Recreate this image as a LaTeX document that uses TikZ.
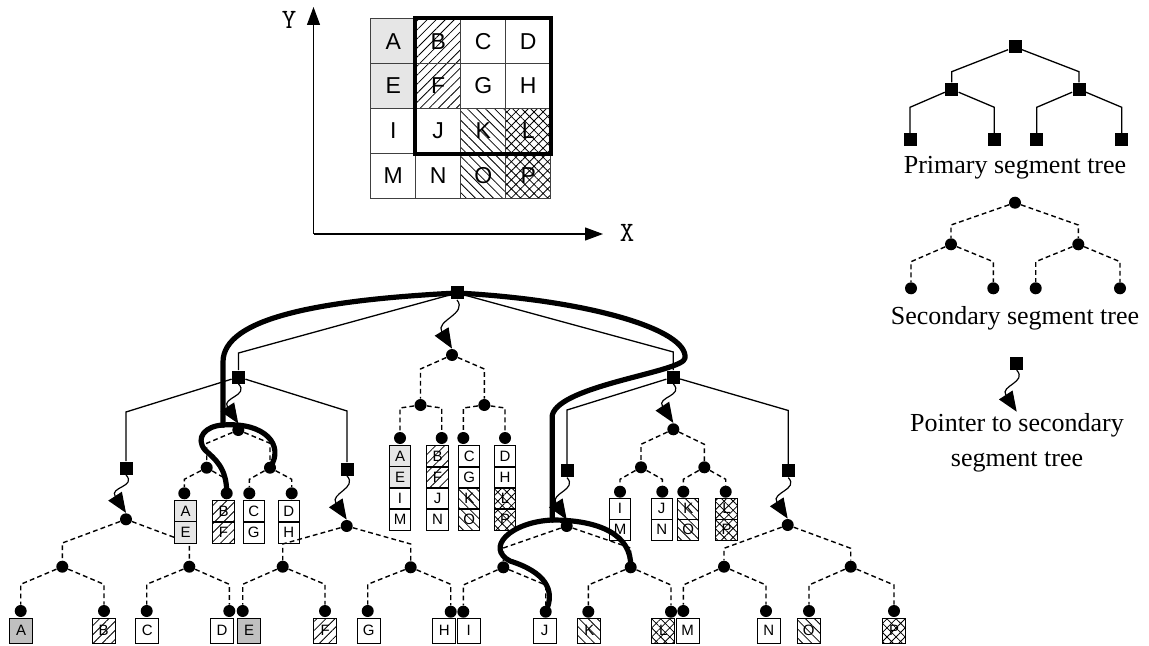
\documentclass[tikz,border=0pt]{standalone}
\usepackage{fontspec}
\setmainfont{Liberation Serif}
\setsansfont{Liberation Sans}
\usetikzlibrary{patterns.meta,backgrounds,arrows.meta,calc}
\definecolor{lightg}{RGB}{230,230,230}
\definecolor{darkg}{RGB}{192,192,192}
\newcommand\elb[4][prim]{\draw[#1] (#2) -- (#3 |- 0,#4) -- (#3);}
\begin{document}
\begin{tikzpicture}[x=0.5pt,y=-0.5pt,
  psq/.style={rectangle, fill=black, minimum size=6.5pt, inner sep=0pt},
  scir/.style={circle, fill=black, minimum size=6pt, inner sep=0pt},
  prim/.style={line width=0.65pt},
  sec/.style={line width=0.7pt, dash pattern=on 2.4pt off 1.6pt},
  ptr/.style={line width=0.6pt, -{Triangle[length=10pt,width=8pt]}},
  query/.style={line width=2.6pt, line cap=round, line join=round},
  gcell/.style={draw=black!75, line width=0.5pt, minimum size=22.5pt, inner sep=0pt, font=\sffamily\fontsize{11.5}{12}\selectfont},
  scell/.style={draw, line width=0.5pt, minimum width=10.6pt, minimum height=10.6pt, inner sep=0pt, font=\sffamily\fontsize{7.5}{8}\selectfont},
  lbox/.style={draw, line width=0.5pt, minimum width=11.5pt, minimum height=12.5pt, inner sep=0pt, font=\sffamily\fontsize{7.5}{8}\selectfont},
  gl/.style={fill=lightg}, gd/.style={fill=darkg},
  hne/.style={pattern={Lines[angle=45,distance=3.2pt,line width=0.4pt]}},
  hnw/.style={pattern={Lines[angle=-45,distance=3.2pt,line width=0.4pt]}},
  hx/.style={pattern={Hatch[angle=45,distance=3.2pt,line width=0.4pt]}},
  legend/.style={font=\fontsize{13}{17.5}\selectfont, align=center},
  axlab/.style={font=\ttfamily\fontsize{14}{14}\selectfont}
]
\useasboundingbox (0,0) rectangle (1149,646);

% ---------- grid and axes ----------
\coordinate (orig) at (313.5,234);
\coordinate (ytip) at (313.5,7);
\coordinate (xtip) at (603,234);
\draw[line width=0.6pt,-{Triangle[length=9pt,width=6.5pt]}] (orig) -- (ytip);
\draw[line width=0.6pt,-{Triangle[length=9pt,width=6.5pt]}] (orig) -- (xtip);
\node[axlab] (ylab) at (289,20) {Y};
\node[axlab] (xlab) at (627,233) {X};

\node[gcell,gl]  (gA) at (393.2,41.2) {A};
\node[gcell,hne] (gB) at (438.2,41.2) {B};
\node[gcell]     (gC) at (483.2,41.2) {C};
\node[gcell]     (gD) at (528.2,41.2) {D};
\node[gcell,gl]  (gE) at (393.2,85.8) {E};
\node[gcell,hne] (gF) at (438.2,85.8) {F};
\node[gcell]     (gG) at (483.2,85.8) {G};
\node[gcell]     (gH) at (528.2,85.8) {H};
\node[gcell]     (gI) at (393.2,130.8) {I};
\node[gcell]     (gJ) at (438.2,130.8) {J};
\node[gcell,hnw] (gK) at (483.2,130.8) {K};
\node[gcell,hx]  (gL) at (528.2,130.8) {L};
\node[gcell]     (gM) at (393.2,175.7) {M};
\node[gcell]     (gN) at (438.2,175.7) {N};
\node[gcell,hnw] (gO) at (483.2,175.7) {O};
\node[gcell,hx]  (gP) at (528.2,175.7) {P};
\draw[line width=2pt] (gB.north west) rectangle (gL.south east);

% ---------- legend ----------
\node[psq] (lp0) at (1015,47) {};
\node[psq] (lp1) at (951.7,89.3) {};
\node[psq] (lp2) at (1079,89.3) {};
\node[psq] (lp3) at (910,140) {};
\node[psq] (lp4) at (994.3,140) {};
\node[psq] (lp5) at (1036.7,140) {};
\node[psq] (lp6) at (1121.7,140) {};
\node[legend] (lt1) at (1015,168) {Primary segment tree};
\node[scir] (ls0) at (1015,202.7) {};
\node[scir] (ls1) at (951,244.3) {};
\node[scir] (ls2) at (1078.3,244.3) {};
\node[scir] (ls3) at (911,288.3) {};
\node[scir] (ls4) at (993.3,288.3) {};
\node[scir] (ls5) at (1035.7,288.3) {};
\node[scir] (ls6) at (1120,288.3) {};
\node[legend] (lt2) at (1015,318.3) {Secondary segment tree};
\node[psq] (lpp) at (1016.7,363.3) {};
\coordinate (lptip) at (1016.7,411.7);
\node[legend] (lt3) at (1017,442.5) {Pointer to secondary\\segment tree};

% ---------- primary tree ----------
\node[psq] (P0) at (457,293) {};
\node[psq] (P1) at (238.5,377) {};
\node[psq] (P2) at (673.3,377) {};
\node[psq] (P3) at (126,468) {};
\node[psq] (P4) at (347,469) {};
\node[psq] (P5) at (567,470.7) {};
\node[psq] (P6) at (788.3,470.7) {};

% ---------- secondary trees ----------
\node[scir] (C0) at (452,355) {};
\node[scir] (C1) at (420.5,405) {};
\node[scir] (C2) at (484.3,405) {};
\node[scir] (C3) at (400,438) {};
\node[scir] (C4) at (441.7,438) {};
\node[scir] (C5) at (463.3,438) {};
\node[scir] (C6) at (505,438) {};
\node[scir] (L0) at (238.3,430) {};
\node[scir] (L1) at (206.7,467.7) {};
\node[scir] (L2) at (270,467.7) {};
\node[scir] (L3) at (184.3,493.3) {};
\node[scir] (L4) at (226.7,493.3) {};
\node[scir] (L5) at (249.3,493.3) {};
\node[scir] (L6) at (291.7,493.3) {};
\node[scir] (R0) at (673.3,429.3) {};
\node[scir] (R1) at (641,467.3) {};
\node[scir] (R2) at (704.3,467.3) {};
\node[scir] (R3) at (620,491.7) {};
\node[scir] (R4) at (662.3,491.7) {};
\node[scir] (R5) at (683.3,491.7) {};
\node[scir] (R6) at (725.7,491.7) {};
\node[scir] (a0) at (126,519.3) {};
\node[scir] (a1) at (62.3,566.7) {};
\node[scir] (a2) at (189.3,566.7) {};
\node[scir] (aA) at (20.7,611) {};
\node[scir] (aB) at (104,611) {};
\node[scir] (aC) at (146.7,611) {};
\node[scir] (aD) at (229.3,611) {};
\node[scir] (b0) at (346.7,526) {};
\node[scir] (b1) at (282.7,566.7) {};
\node[scir] (b2) at (410.7,567.3) {};
\node[scir] (bE) at (242.7,611) {};
\node[scir] (bF) at (325,611) {};
\node[scir] (bG) at (367.7,611) {};
\node[scir] (bH) at (450.7,611.7) {};
\node[scir] (c0) at (566.7,526) {};
\node[scir] (c1) at (503.3,567.3) {};
\node[scir] (c2) at (630.7,567.3) {};
\node[scir] (cI) at (463.3,611.7) {};
\node[scir] (cJ) at (545.7,611.7) {};
\node[scir] (cK) at (588.3,611.7) {};
\node[scir] (cL) at (671,611.7) {};
\node[scir] (d0) at (787.7,525) {};
\node[scir] (d1) at (724,566.7) {};
\node[scir] (d2) at (850.7,566.7) {};
\node[scir] (dM) at (683.3,611) {};
\node[scir] (dN) at (766,611) {};
\node[scir] (dO) at (809,611) {};
\node[scir] (dP) at (894,611) {};

% ---------- boxes ----------
\node[scell,gl]  (s1A) at (400,456.5) {A};
\node[scell,gl]  (s1E) at (400,477.5) {E};
\node[scell]     (s1I) at (400,498.5) {I};
\node[scell]     (s1M) at (400,519.5) {M};
\node[scell,hne] (s1B) at (437.5,456.5) {B};
\node[scell,hne] (s1F) at (437.5,477.5) {F};
\node[scell]     (s1J) at (437.5,498.5) {J};
\node[scell]     (s1N) at (437.5,519.5) {N};
\node[scell]     (s1C) at (469.3,456.5) {C};
\node[scell]     (s1G) at (469.3,477.5) {G};
\node[scell,hnw] (s1K) at (469.3,498.5) {K};
\node[scell,hnw] (s1O) at (469.3,519.5) {O};
\node[scell]     (s1D) at (505,456.5) {D};
\node[scell]     (s1H) at (505,477.5) {H};
\node[scell,hx]  (s1L) at (505,498.5) {L};
\node[scell,hx]  (s1P) at (505,519.5) {P};
\node[scell,gl]  (s2A) at (185.5,511.5) {A};
\node[scell,gl]  (s2E) at (185.5,532.5) {E};
\node[scell,hne] (s2B) at (223.5,511.5) {B};
\node[scell,hne] (s2F) at (223.5,532.5) {F};
\node[scell]     (s2C) at (253.7,511.5) {C};
\node[scell]     (s2G) at (253.7,532.5) {G};
\node[scell]     (s2D) at (288.8,511.5) {D};
\node[scell]     (s2H) at (288.8,532.5) {H};
\node[scell]     (s3I) at (620,508.8) {I};
\node[scell]     (s3M) at (620,529.8) {M};
\node[scell]     (s3J) at (661.7,508.8) {J};
\node[scell]     (s3N) at (661.7,529.8) {N};
\node[scell,hnw] (s3K) at (688.3,508.8) {K};
\node[scell,hnw] (s3O) at (688.3,529.8) {O};
\node[scell,hx]  (s3L) at (726.5,508.8) {L};
\node[scell,hx]  (s3P) at (726.5,529.8) {P};
\node[lbox,gd]  (xA) at (21.2,630.8) {A};
\node[lbox,hne] (xB) at (103.7,630.8) {B};
\node[lbox]     (xC) at (147.3,630.8) {C};
\node[lbox]     (xD) at (222,630.8) {D};
\node[lbox,gd]  (xE) at (249,630.8) {E};
\node[lbox,hne] (xF) at (325.3,630.8) {F};
\node[lbox]     (xG) at (368.7,630.8) {G};
\node[lbox]     (xH) at (444.3,630.8) {H};
\node[lbox]     (xI) at (468.7,630.8) {I};
\node[lbox]     (xJ) at (544.7,630.8) {J};
\node[lbox,hnw] (xK) at (589.3,630.8) {K};
\node[lbox,hx]  (xL) at (663.3,630.8) {L};
\node[lbox]     (xM) at (687.7,630.8) {M};
\node[lbox]     (xN) at (768.8,630.8) {N};
\node[lbox,hnw] (xO) at (808.8,630.8) {O};
\node[lbox,hx]  (xP) at (894,630.8) {P};

% ---------- edges (behind) ----------
\begin{scope}[on background layer]
  \elb{lp0}{lp1}{71.7} \elb{lp0}{lp2}{71.7}
  \elb{lp1}{lp3}{107.3} \elb{lp1}{lp4}{107.3}
  \elb{lp2}{lp5}{107.3} \elb{lp2}{lp6}{107.3}
  \elb[sec]{ls0}{ls1}{225} \elb[sec]{ls0}{ls2}{225}
  \elb[sec]{ls1}{ls3}{261.7} \elb[sec]{ls1}{ls4}{261.7}
  \elb[sec]{ls2}{ls5}{261.7} \elb[sec]{ls2}{ls6}{261.7}

  \elb{P0}{P1}{353} \elb{P0}{P2}{352}
  \elb{P1}{P3}{412} \elb{P1}{P4}{411}
  \elb{P2}{P5}{410} \elb{P2}{P6}{410.5}

  \elb[sec]{C0}{C1}{369} \elb[sec]{C0}{C2}{369}
  \elb[sec]{C1}{C3}{408} \elb[sec]{C1}{C4}{408}
  \elb[sec]{C2}{C5}{408} \elb[sec]{C2}{C6}{408}

  \elb[sec]{L0}{L1}{443.3} \elb[sec]{L0}{L2}{443.3}
  \elb[sec]{L1}{L3}{479.3} \elb[sec]{L1}{L4}{479.3}
  \elb[sec]{L2}{L5}{479.3} \elb[sec]{L2}{L6}{479.3}

  \elb[sec]{R0}{R1}{444.3} \elb[sec]{R0}{R2}{444.3}
  \elb[sec]{R1}{R3}{479.3} \elb[sec]{R1}{R4}{479.3}
  \elb[sec]{R2}{R5}{479.3} \elb[sec]{R2}{R6}{479.3}

  \elb[sec]{a0}{a1}{543} \elb[sec]{a0}{a2}{543}
  \elb[sec]{a1}{aA}{584.3} \elb[sec]{a1}{aB}{584.3}
  \elb[sec]{a2}{aC}{584.3} \elb[sec]{a2}{aD}{584.3}

  \elb[sec]{b0}{b1}{544} \elb[sec]{b0}{b2}{544}
  \elb[sec]{b1}{bE}{584.3} \elb[sec]{b1}{bF}{584.3}
  \elb[sec]{b2}{bG}{584.3} \elb[sec]{b2}{bH}{584.3}

  \elb[sec]{c0}{c1}{548} \elb[sec]{c0}{c2}{548}
  \elb[sec]{c1}{cI}{585} \elb[sec]{c1}{cJ}{585}
  \elb[sec]{c2}{cK}{585} \elb[sec]{c2}{cL}{585}

  \elb[sec]{d0}{d1}{548.3} \elb[sec]{d0}{d2}{548.3}
  \elb[sec]{d1}{dM}{585} \elb[sec]{d1}{dN}{585}
  \elb[sec]{d2}{dO}{585} \elb[sec]{d2}{dP}{585}
\end{scope}

% ---------- pointers ----------
\draw[ptr] (lpp.south) .. controls +(11,12) and +(-17,-26) .. (lptip);
\draw[ptr] (P0.south) .. controls +(11,14) and +(-17,-28) .. (C0.north);
\draw[ptr] (P1.south) .. controls +(11,12) and +(-17,-26) .. (L0.north);
\draw[ptr] (P2.south) .. controls +(11,12) and +(-17,-26) .. (R0.north);
\draw[ptr] (P3.south) .. controls +(11,12) and +(-17,-26) .. (a0.north);
\draw[ptr] (P4.south) .. controls +(11,12) and +(-17,-26) .. (b0.north);
\draw[ptr] (P5.south) .. controls +(11,12) and +(-17,-26) .. (c0.north);
\draw[ptr] (P6.south) .. controls +(11,12) and +(-17,-26) .. (d0.north);

% ---------- query paths ----------
\coordinate (j1) at (223,425);
\coordinate (j2) at (552.3,520);
\draw[query] (P0.center) .. controls (320,300) and (223,318) .. (223,362) -- (j1);
\draw[query] (j1) .. controls (205,426) and (195,438) .. (205,450) .. controls (215,459) and (227,468) .. (L4.center);
\draw[query] (j1) .. controls (265,422) and (285,445) .. (L2.center);
\draw[query] (P0.center) .. controls (590,300) and (688,330) .. (685,358) .. controls (684,372) and (560,385) .. (552.3,415) -- (j2);
\draw[query] (j2) .. controls (510,522) and (485,548) .. (510,561) .. controls (545,572) and (556,590) .. (cJ.center);
\draw[query] (j2) .. controls (600,520) and (632,535) .. (c2.center);
\end{tikzpicture}
\end{document}
